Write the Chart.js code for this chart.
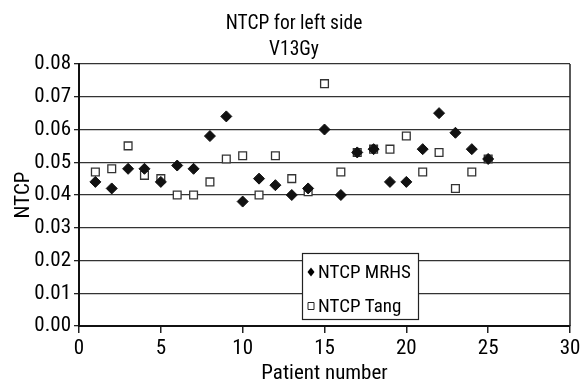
<!DOCTYPE html>
<html>
<head>
<meta charset="utf-8">
<script src="https://cdn.jsdelivr.net/npm/chart.js@4.4.1/dist/chart.umd.min.js"></script>
<style>
html,body{margin:0;padding:0;background:#fff;}
#wrap{width:588px;height:389px;position:relative;}
</style>
</head>
<body>
<div id="wrap"><canvas id="c" width="588" height="389"></canvas></div>
<script>
const FONT = "'Roboto Condensed','Liberation Sans Narrow','DejaVu Sans Condensed',sans-serif";
const titleLines = ["NTCP for left side", "V13Gy"];
const xAxisTitle = "Patient number";
const yAxisTitle = "NTCP";
const seriesNames = ["NTCP MRHS", "NTCP Tang"];
const patients = [1,2,3,4,5,6,7,8,9,10,11,12,13,14,15,16,17,18,19,20,21,22,23,24,25];
const ntcpMRHS = [0.044,0.042,0.048,0.048,0.044,0.049,0.048,0.058,0.064,0.038,0.045,0.043,0.040,0.042,0.060,0.040,0.053,0.054,0.044,0.044,0.054,0.065,0.059,0.054,0.051];
const ntcpTang = [0.047,0.048,0.055,0.046,0.045,0.040,0.040,0.044,0.051,0.052,0.040,0.052,0.045,0.041,0.074,0.047,0.053,0.054,0.054,0.058,0.047,0.053,0.042,0.047,0.051];
const xTicks = [0,5,10,15,20,25,30];
const yTicks = [0,0.01,0.02,0.03,0.04,0.05,0.06,0.07,0.08];

function pts(ys){ return patients.map((x,i)=>({x:x,y:ys[i]})); }

const bgPlugin = {
  id:'bg',
  beforeDraw(chart){
    const ctx=chart.ctx; ctx.save(); ctx.fillStyle='#fff'; ctx.fillRect(0,0,chart.width,chart.height); ctx.restore();
  }
};

const framePlugin = {
  id:'frame',
  afterDatasetsDraw(chart){
    const ctx=chart.ctx, a=chart.chartArea;
    ctx.save();
    ctx.strokeStyle='#222'; ctx.lineWidth=1.5;
    ctx.beginPath(); ctx.moveTo(a.right, a.top); ctx.lineTo(a.right, a.bottom); ctx.stroke();
    ctx.restore();
  }
};

const legendPlugin = {
  id:'boxLegend',
  afterDraw(chart){
    const ctx=chart.ctx, a=chart.chartArea;
    const left=a.left+223, top=a.top+189, w=116, h=66;
    ctx.save();
    ctx.fillStyle='#fff'; ctx.fillRect(left,top,w,h);
    ctx.strokeStyle='#222'; ctx.lineWidth=1.2;
    ctx.strokeRect(left+0.5,top+0.5,w,h);
    ctx.font="19px "+FONT;
    ctx.textBaseline='middle'; ctx.textAlign='left';
    const ds=chart.data.datasets;
    const rows=[top+19, top+53];
    ds.forEach((d,i)=>{
      const cx=left+9, cy=rows[i];
      ctx.beginPath();
      if(i===0){
        ctx.fillStyle='#000';
        ctx.moveTo(cx,cy-4.5); ctx.lineTo(cx+3.5,cy); ctx.lineTo(cx,cy+4.5); ctx.lineTo(cx-3.5,cy); ctx.closePath(); ctx.fill();
      } else {
        ctx.fillStyle='#fff'; ctx.strokeStyle='#222'; ctx.lineWidth=1;
        ctx.rect(cx-3,cy-3.5,6,7); ctx.fill(); ctx.stroke();
      }
      ctx.fillStyle='#000';
      ctx.fillText(d.label, left+16, cy+1);
    });
    ctx.restore();
  }
};

new Chart(document.getElementById('c'), {
  type:'scatter',
  data:{
    datasets:[
      {label:seriesNames[0], data:pts(ntcpMRHS), pointStyle:'rectRot', radius:5.5, backgroundColor:'#111', borderColor:'#111', borderWidth:1},
      {label:seriesNames[1], data:pts(ntcpTang), pointStyle:'rect', radius:5.5, backgroundColor:'#fff', borderColor:'#333', borderWidth:1.3}
    ]
  },
  options:{
    responsive:false, animation:false,
    layout:{padding:0},
    plugins:{
      legend:{display:false},
      tooltip:{enabled:false},
      title:{display:true, text:titleLines, color:'#000', font:{family:FONT,size:19.5,weight:'normal',lineHeight:1.3}, padding:{top:11.8,bottom:1.5}}
    },
    scales:{
      x:{
        type:'linear', min:0, max:30,
        afterBuildTicks(s){ s.ticks = xTicks.map(v=>({value:v})); },
        afterFit(s){ s.height = 63; },
        ticks:{color:'#000', font:{family:FONT,size:21}, padding:3, maxRotation:0, callback:v=>String(v)},
        grid:{display:true, drawOnChartArea:false, color:'#222', tickColor:'#222', tickLength:7, lineWidth:1.5},
        border:{display:true, color:'#111', width:2},
        title:{display:true, text:xAxisTitle, color:'#000', font:{family:FONT,size:21,lineHeight:1.2}, padding:{top:0,bottom:3}}
      },
      y:{
        type:'linear', min:0, max:0.08,
        afterBuildTicks(s){ s.ticks = yTicks.map(v=>({value:v})); },
        afterFit(s){ s.width = 79; },
        ticks:{color:'#000', font:{family:FONT,size:21}, padding:3, callback:v=>Number(v).toFixed(2)},
        grid:{display:true, color:'#333', tickColor:'#222', tickLength:5, lineWidth:1.3},
        border:{display:true, color:'#111', width:2},
        title:{display:true, text:yAxisTitle, color:'#000', font:{family:FONT,size:21,lineHeight:1.2}, padding:{top:11,bottom:0}}
      },
      spacer:{
        type:'linear', position:'right', display:true, min:0, max:1,
        afterFit(s){ s.width = 18; },
        ticks:{display:false},
        grid:{display:false, drawTicks:false},
        border:{display:false},
        title:{display:false}
      }
    }
  },
  plugins:[bgPlugin, framePlugin, legendPlugin]
});
</script>
</body>
</html>
